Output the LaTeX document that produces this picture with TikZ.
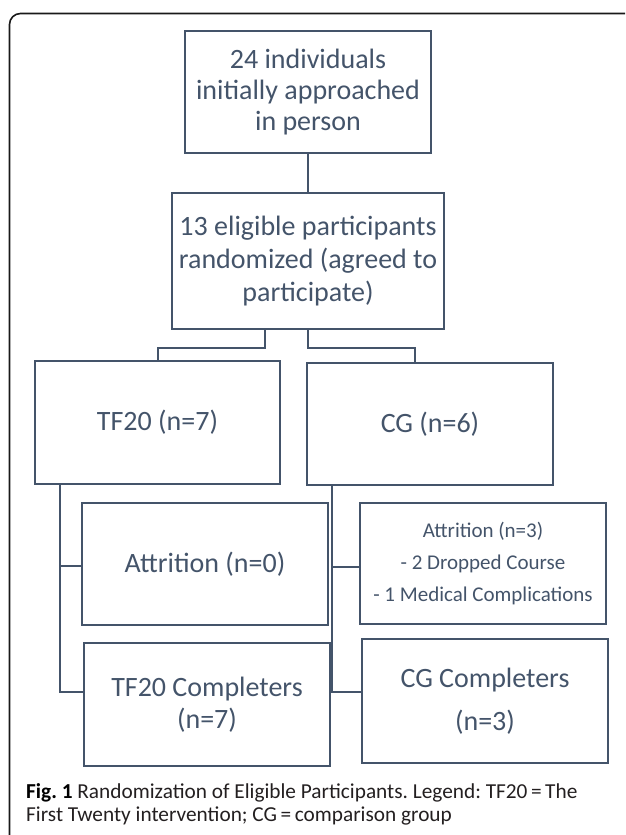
\documentclass[tikz,border=0pt]{standalone}
\usepackage{fontspec}
\setmainfont{Carlito}
\frenchspacing
\definecolor{slate}{HTML}{44546A}
\definecolor{captxt}{HTML}{231F20}
\begin{document}
\begin{tikzpicture}[x=1pt,y=-1pt,
  box/.style={draw=slate, line width=2pt, inner sep=0pt, minimum width=246pt, align=center, text=slate, font=\fontsize{28}{31}\selectfont},
  link/.style={draw=slate, line width=2pt},
  capt/.style={anchor=west, inner sep=0pt, text=captxt, font=\fontsize{21.3}{23}\selectfont}]
\useasboundingbox (0,0) rectangle (625,835);
\begin{scope}
\clip (0,0) rectangle (625,835);
\draw[line width=1.6pt, rounded corners=11pt, draw=black!90] (9.5,13.5) rectangle (636,850);
\end{scope}
% boxes
\node[box, minimum height=122pt] (b1) at (308,92) {24 individuals\\initially approached\\in person};
\node[box, minimum width=272pt, minimum height=136pt, font=\fontsize{28}{33}\selectfont] (b2) at (308,261) {13 eligible participants\\randomized (agreed to\\participate)};
\node[box, minimum width=245pt, minimum height=123pt] (tf) at (157.5,422.5) {TF20 (n=7)};
\node[box, minimum height=122pt] (cg) at (430,424) {CG (n=6)};
\node[box, minimum height=122pt] (at1) at (205,564) {Attrition (n=0)};
\node[box, minimum height=121pt, font=\fontsize{21}{32}\selectfont] (at2) at (483,563.5) {Attrition (n=3)\\- 2 Dropped Course\\- 1 Medical Complications};
\node[box, minimum height=123pt, font=\fontsize{28}{32}\selectfont] (co1) at (207,704.5) {TF20 Completers\\(n=7)};
\node[box, minimum height=124pt, font=\fontsize{28}{43}\selectfont] (co2) at (485,701) {CG Completers\\(n=3)};
% connector bends
\coordinate (l1) at (265,348);
\coordinate (r1) at (415,348);
\coordinate (lb) at (60,566);
\coordinate (lv) at (60,692);
\coordinate (rb) at (332,567);
\coordinate (rv) at (332,692);
% connectors
\draw[link] (b1) -- (b2);
\draw[link] (b2.south -| l1) -- (l1) -- (l1 -| tf.north) -- (tf.north);
\draw[link] (b2.south) -- (b2.south |- r1) -- (r1) -- (r1 |- cg.north);
\draw[link] (tf.south -| lv) -- (lv) -- (lv -| co1.west);
\draw[link] (lb) -- (lb -| at1.west);
\draw[link] (cg.south -| rv) -- (rv) -- (rv -| co2.west);
\draw[link] (rb) -- (rb -| at2.west);
% caption
\node[capt] (cap1) at (26,793) {\textbf{\color{black}Fig. 1} Randomization of Eligible Participants. Legend: TF20\,=\,The};
\node[capt] (cap2) at (26,816) {First Twenty intervention; CG\,=\,comparison group};
\end{tikzpicture}
\end{document}
